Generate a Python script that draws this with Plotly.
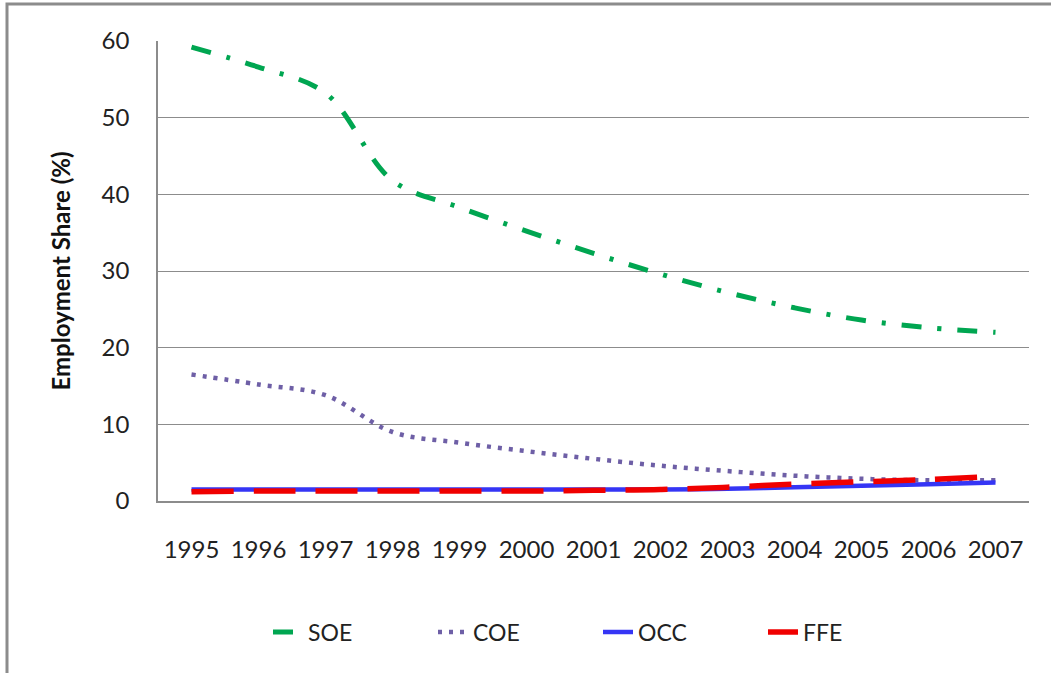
import plotly.graph_objects as go

years = ["1995", "1996", "1997", "1998", "1999", "2000", "2001",
         "2002", "2003", "2004", "2005", "2006", "2007"]
soe = [59.2, 56.6, 53.2, 41.8, 38.3, 35.2, 32.3, 29.6, 27.2, 25.2, 23.6, 22.6, 22.0]
coe = [16.5, 15.2, 13.8, 9.0, 7.6, 6.5, 5.5, 4.6, 3.9, 3.3, 2.9, 2.7, 2.7]
occ = [1.5, 1.5, 1.5, 1.5, 1.5, 1.5, 1.5, 1.5, 1.6, 1.8, 2.0, 2.2, 2.4]
ffe = [1.2, 1.3, 1.3, 1.3, 1.3, 1.3, 1.4, 1.5, 1.8, 2.2, 2.5, 2.8, 3.2]
y_ticks = [0, 10, 20, 30, 40, 50, 60]

W, H = 1051, 673
ML, MR, MT, MB = 158, 22, 41, 172
FONT = "Lato"

fig = go.Figure()
fig.add_trace(go.Scatter(x=years, y=soe, name="SOE", mode="lines", line_shape="spline",
                         line=dict(color="#00A651", width=5, dash="20px,16px,4px,16px")))
fig.add_trace(go.Scatter(x=years, y=coe, name="COE", mode="lines", line_shape="spline",
                         line=dict(color="#6E5FA6", width=4.5, dash="4px,7px")))
fig.add_trace(go.Scatter(x=years, y=occ, name="OCC", mode="lines", line_shape="spline",
                         line=dict(color="#3535F5", width=4.5)))
fig.add_trace(go.Scatter(x=years, y=ffe, name="FFE", mode="lines", line_shape="spline",
                         line=dict(color="#F00000", width=5.5, dash="42px,20px")))

pw = W - ML - MR
ph = H - MT - MB
fig.add_shape(type="rect", xref="paper", yref="paper",
              x0=(7 - ML) / pw, x1=(W + 20 - ML) / pw,
              y0=-(H + 20 - MT - ph) / ph, y1=1 + (MT - 4) / ph,
              line=dict(color="#8C8C8C", width=3), layer="below")

fig.update_layout(
    width=W, height=H,
    margin=dict(l=ML, r=MR, t=MT, b=MB, autoexpand=False),
    paper_bgcolor="white", plot_bgcolor="white",
    font=dict(family=FONT, size=24, color="#222222"),
    showlegend=True,
    legend=dict(orientation="h", x=(268 - ML) / pw, xanchor="left",
                y=-(632 - MT - ph) / ph, yanchor="middle",
                font=dict(family=FONT, size=23, color="#222222"),
                entrywidth=120, itemwidth=30, traceorder="normal"),
)
fig.update_xaxes(type="category", range=[-0.5, len(years) - 0.5], showgrid=False,
                 showline=True, linecolor="#8C8C8C", linewidth=1.5, ticks="",
                 ticklabelstandoff=26,
                 tickfont=dict(family=FONT, size=24, color="#222222"))
fig.update_yaxes(range=[0, 60], tickvals=y_ticks, showgrid=True, gridcolor="#8C8C8C",
                 gridwidth=1.2, showline=True, linecolor="#8C8C8C", linewidth=1.5,
                 zeroline=False, ticks="", ticklabelstandoff=22,
                 tickfont=dict(family=FONT, size=24, color="#222222"),
                 title=dict(text="<b>Employment Share (%)</b>", standoff=24,
                            font=dict(family=FONT, size=24, color="#111111")))

fig.write_html("out.html")
